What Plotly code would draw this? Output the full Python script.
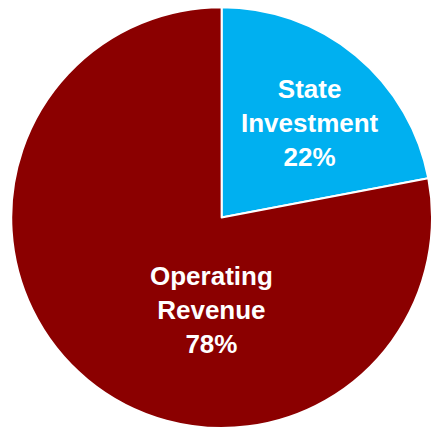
import plotly.graph_objects as go

labels = ["State<br>Investment", "Operating<br>Revenue"]
values = [22, 78]
colors = ["#00B0F0", "#8B0000"]
# label block centers (paper coords) for the in-slice labels
label_pos = [(0.718, 0.714), (0.490, 0.279)]

total = sum(values)

fig = go.Figure(go.Pie(
    labels=labels,
    values=values,
    sort=False,
    direction="clockwise",
    rotation=0,
    marker=dict(colors=colors, line=dict(color="white", width=2)),
    textinfo="none",
    hoverinfo="skip",
    showlegend=False,
    domain=dict(x=[0.026, 1.0], y=[0.0, 0.988]),
))

for lab, val, (px, py) in zip(labels, values, label_pos):
    fig.add_annotation(
        x=px, y=py, xref="paper", yref="paper",
        xanchor="center", yanchor="middle",
        text=f"<b>{lab}<br>{round(100 * val / total)}%</b>",
        showarrow=False,
        font=dict(family="Liberation Sans, Arial, sans-serif", size=26, color="white"),
        align="center",
    )

fig.update_layout(
    width=432, height=430,
    margin=dict(l=0, r=0, t=0, b=0),
    paper_bgcolor="white",
    plot_bgcolor="white",
    showlegend=False,
)

fig.write_html("out.html", config={"displayModeBar": False},
               post_script="document.body.style.margin='0';")
